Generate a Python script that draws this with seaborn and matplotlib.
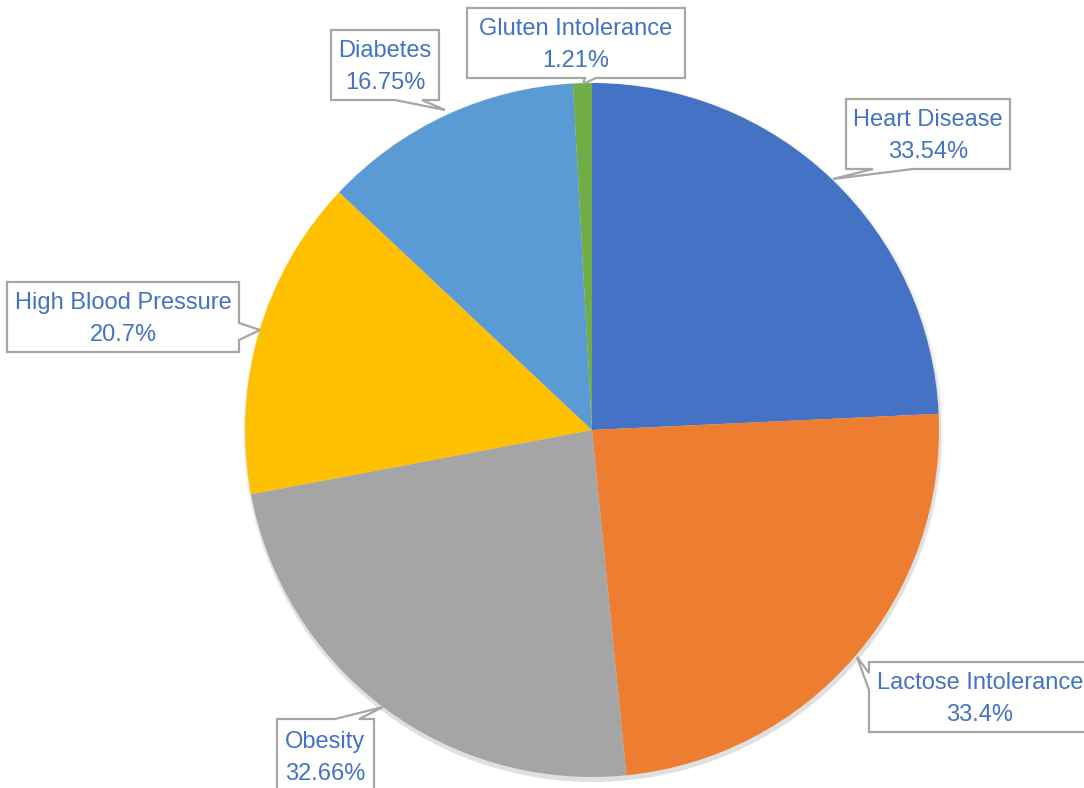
import matplotlib
matplotlib.use("Agg")
import matplotlib.pyplot as plt
from matplotlib.patches import Polygon, Circle
import seaborn as sns

# Survey of diet-related conditions
conditions = ["Heart Disease", "Lactose Intolerance", "Obesity",
              "High Blood Pressure", "Diabetes", "Gluten Intolerance"]
shares = [33.54, 33.4, 32.66, 20.7, 16.75, 1.21]
share_labels = ["33.54%", "33.4%", "32.66%", "20.7%", "16.75%", "1.21%"]
slice_colors = ["#4472C4", "#ED7D31", "#A5A5A5", "#FFC000", "#5B9BD5", "#70AD47"]

sns.set_theme(style="white")
plt.rcParams["font.family"] = ["Liberation Sans", "DejaVu Sans"]

W, H = 1084, 788
fig = plt.figure(figsize=(W / 100, H / 100), dpi=100)
ax = fig.add_axes([0, 0, 1, 1])


def fy(y):
    """Convert a top-down pixel row to the axes' bottom-up coordinate."""
    return H - y


cx, cy, r = 592, 430, 347

# soft drop shadow under the pie
for k, a in enumerate([0.03, 0.04, 0.05]):
    ax.add_patch(Circle((cx + 1, fy(cy) - 2 - k), r + 3 - k, color="black",
                        alpha=a, lw=0, zorder=0))

ax.pie(shares, colors=sns.color_palette(slice_colors), startangle=90,
       counterclock=False, center=(cx, fy(cy)), radius=r,
       wedgeprops=dict(linewidth=0, edgecolor="none"), frame=False)

# callout boxes: (left, top, right, bottom), tail edge, tail base (a, b), tip
callouts = {
    "Heart Disease": ((846, 99, 1010, 169), "bottom", (873, 913), (833, 179)),
    "Lactose Intolerance": ((869, 662, 1100, 732), "left", (673, 690), (857, 657)),
    "Obesity": ((277, 719, 374, 800), "top", (335, 359), (383, 707)),
    "High Blood Pressure": ((7, 282, 239, 352), "right", (323, 340), (260, 330)),
    "Diabetes": ((331, 30, 439, 100), "bottom", (395, 422), (445, 110)),
    "Gluten Intolerance": ((467, 8, 685, 78), "bottom", (585, 596), (583, 84)),
}

text_color = "#4472C4"
for name, lab in zip(conditions, share_labels):
    (l, t, rr, b), edge, (a1, a2), tip = callouts[name]
    if edge == "bottom":
        pts = [(l, t), (rr, t), (rr, b), (a2, b), tip, (a1, b), (l, b)]
    elif edge == "top":
        pts = [(l, t), (a1, t), tip, (a2, t), (rr, t), (rr, b), (l, b)]
    elif edge == "right":
        pts = [(l, t), (rr, t), (rr, a1), tip, (rr, a2), (rr, b), (l, b)]
    else:
        pts = [(l, t), (rr, t), (rr, b), (l, b), (l, a2), tip, (l, a1)]
    ax.add_patch(Polygon([(x, fy(y)) for x, y in pts], closed=True,
                         facecolor="white", edgecolor="#A6A6A6", lw=1.6,
                         joinstyle="miter", zorder=5))
    xc = (l + rr) / 2 if name != "Lactose Intolerance" else 980
    if name == "Obesity":
        y1, y2 = 742, 774
    else:
        ym = (t + b) / 2
        y1, y2 = ym - 14, ym + 18
    for txt, yy in ((name, y1), (lab, y2)):
        ax.text(xc, fy(yy), txt, ha="center", va="center", fontsize=17,
                color=text_color, zorder=6)

ax.set_xlim(0, W)
ax.set_ylim(0, H)
ax.set_aspect("equal")
ax.axis("off")

fig.savefig("out.png", dpi=100, facecolor="white")
